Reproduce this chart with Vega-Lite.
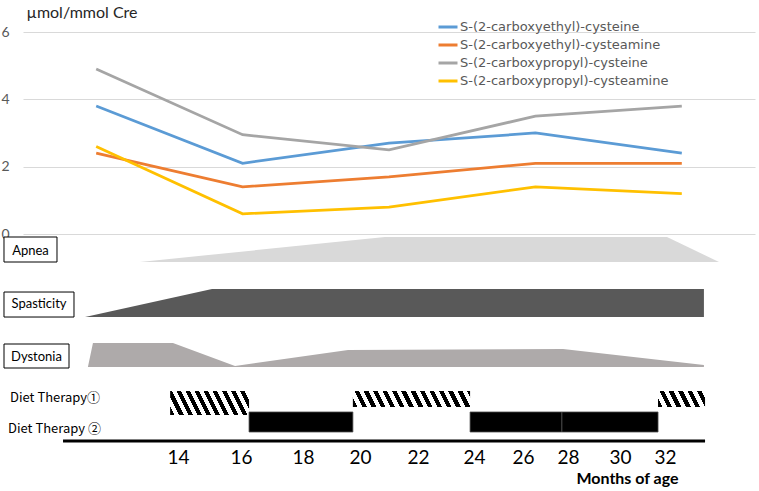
{
  "$schema": "https://vega.github.io/schema/vega-lite/v6.json",
  "width": 732,
  "height": 410,
  "autosize": {"type": "none"},
  "padding": {"left": 23, "top": 32, "right": 4, "bottom": 49},
  "config": {"view": {"stroke": null}, "font": "Lato"},
  "datasets": {
    "lines": [
      {"sample": 1, "compound": "S-(2-carboxyethyl)-cysteine", "value": 3.8},
      {"sample": 2, "compound": "S-(2-carboxyethyl)-cysteine", "value": 2.1},
      {"sample": 3, "compound": "S-(2-carboxyethyl)-cysteine", "value": 2.7},
      {"sample": 4, "compound": "S-(2-carboxyethyl)-cysteine", "value": 3.0},
      {"sample": 5, "compound": "S-(2-carboxyethyl)-cysteine", "value": 2.4},
      {"sample": 1, "compound": "S-(2-carboxyethyl)-cysteamine", "value": 2.4},
      {"sample": 2, "compound": "S-(2-carboxyethyl)-cysteamine", "value": 1.4},
      {"sample": 3, "compound": "S-(2-carboxyethyl)-cysteamine", "value": 1.7},
      {"sample": 4, "compound": "S-(2-carboxyethyl)-cysteamine", "value": 2.1},
      {"sample": 5, "compound": "S-(2-carboxyethyl)-cysteamine", "value": 2.1},
      {"sample": 1, "compound": "S-(2-carboxypropyl)-cysteine", "value": 4.9},
      {"sample": 2, "compound": "S-(2-carboxypropyl)-cysteine", "value": 2.95},
      {"sample": 3, "compound": "S-(2-carboxypropyl)-cysteine", "value": 2.5},
      {"sample": 4, "compound": "S-(2-carboxypropyl)-cysteine", "value": 3.5},
      {"sample": 5, "compound": "S-(2-carboxypropyl)-cysteine", "value": 3.8},
      {"sample": 1, "compound": "S-(2-carboxypropyl)-cysteamine", "value": 2.6},
      {"sample": 2, "compound": "S-(2-carboxypropyl)-cysteamine", "value": 0.6},
      {"sample": 3, "compound": "S-(2-carboxypropyl)-cysteamine", "value": 0.8},
      {"sample": 4, "compound": "S-(2-carboxypropyl)-cysteamine", "value": 1.4},
      {"sample": 5, "compound": "S-(2-carboxypropyl)-cysteamine", "value": 1.2}
    ],
    "symptoms": [
      {"symptom": "Apnea", "month": 12.79, "severity": 0},
      {"symptom": "Apnea", "month": 20.86, "severity": 1},
      {"symptom": "Apnea", "month": 32.09, "severity": 1},
      {"symptom": "Apnea", "month": 34.4, "severity": 0},
      {"symptom": "Spasticity", "month": 11.05, "severity": 0},
      {"symptom": "Spasticity", "month": 15.08, "severity": 1},
      {"symptom": "Spasticity", "month": 33.73, "severity": 1},
      {"symptom": "Dystonia", "month": 11.14, "severity": 0},
      {"symptom": "Dystonia", "month": 11.3, "severity": 1},
      {"symptom": "Dystonia", "month": 13.84, "severity": 1},
      {"symptom": "Dystonia", "month": 15.81, "severity": 0.04},
      {"symptom": "Dystonia", "month": 19.58, "severity": 0.71},
      {"symptom": "Dystonia", "month": 27.78, "severity": 0.75},
      {"symptom": "Dystonia", "month": 33.73, "severity": 0.08}
    ],
    "diet": [
      {"phase": 1, "therapy": 1, "start": 13.75, "end": 16.26},
      {"phase": 2, "therapy": 2, "start": 16.26, "end": 19.75},
      {"phase": 3, "therapy": 1, "start": 19.75, "end": 23.86},
      {"phase": 4, "therapy": 2, "start": 23.86, "end": 27.73},
      {"phase": 5, "therapy": 2, "start": 27.73, "end": 31.69},
      {"phase": 6, "therapy": 1, "start": 31.69, "end": 33.78}
    ]
  },
  "layer": [
    {
      "data": {"name": "lines"},
      "mark": {"type": "line", "strokeWidth": 2.75},
      "encoding": {
        "x": {"field": "sample", "type": "ordinal", "scale": {"type": "point", "padding": 0.5}, "axis": null},
        "y": {"field": "value", "type": "quantitative",
          "scale": {"domain": [-6.178, 6], "nice": false, "zero": false},
          "axis": {"values": [0, 2, 4, 6], "grid": true, "gridColor": "#D9D9D9", "gridWidth": 1, "domain": false, "ticks": false,
            "labelPadding": 14, "labelFontSize": 14, "labelColor": "#595959", "labelFont": "Lato",
            "title": "µmol/mmol Cre", "titleAngle": 0, "titleAlign": "left", "titleBaseline": "middle", "titleX": 3, "titleY": -20,
            "titleFontSize": 16, "titleFontWeight": "normal", "titleColor": "#262626", "titleFont": "Lato"}},
        "color": {"field": "compound", "type": "nominal",
          "scale": {"domain": ["S-(2-carboxyethyl)-cysteine", "S-(2-carboxyethyl)-cysteamine", "S-(2-carboxypropyl)-cysteine", "S-(2-carboxypropyl)-cysteamine"],
            "range": ["#5B9BD5", "#ED7D31", "#A5A5A5", "#FFC000"]},
          "legend": {"orient": "none", "legendX": 414, "legendY": -16, "title": null, "symbolType": "stroke", "symbolSize": 361,
            "symbolStrokeWidth": 3, "labelFontSize": 13, "labelColor": "#595959", "labelFont": "DejaVu Sans", "labelLimit": 0,
            "rowPadding": 0, "labelOffset": 1}}
      }
    },
    {
      "layer": [
        {
          "data": {"name": "symptoms"},
          "transform": [{"filter": "datum.symptom === 'Apnea'"}],
          "mark": {"type": "area", "color": "#D9D9D9"},
          "encoding": {
            "x": {"field": "month", "type": "quantitative", "scale": {"domain": [14,16,18,20,22,24,26,28,30,32], "range": [155,218,280,337,395,451,500,545,597,642], "nice": false, "zero": false}, "axis": null},
            "y": {"field": "severity", "type": "quantitative", "scale": {"domain": [-7.2, 9.2], "nice": false, "zero": false}, "axis": null},
            "y2": {"datum": 0}
          }
        },
        {
          "data": {"values": [{}]},
          "mark": {"type": "rect", "width": 53, "height": 25, "fill": "white", "stroke": "black", "strokeWidth": 1},
          "encoding": {
            "x": {"datum": 9.317, "type": "quantitative", "scale": {"domain": [14,16,18,20,22,24,26,28,30,32], "range": [155,218,280,337,395,451,500,545,597,642], "nice": false, "zero": false}, "axis": null},
            "y": {"datum": 0.5, "type": "quantitative", "scale": {"domain": [-7.2, 9.2], "nice": false, "zero": false}, "axis": null}
          }
        },
        {
          "data": {"values": [{}]},
          "mark": {"type": "text", "text": "Apnea", "fontSize": 13, "font": "Lato", "color": "black", "align": "center", "baseline": "middle"},
          "encoding": {
            "x": {"datum": 9.317, "type": "quantitative", "scale": {"domain": [14,16,18,20,22,24,26,28,30,32], "range": [155,218,280,337,395,451,500,545,597,642], "nice": false, "zero": false}, "axis": null},
            "y": {"datum": 0.45, "type": "quantitative", "scale": {"domain": [-7.2, 9.2], "nice": false, "zero": false}, "axis": null}
          }
        }
      ]
    },
    {
      "layer": [
        {
          "data": {"name": "symptoms"},
          "transform": [{"filter": "datum.symptom === 'Spasticity'"}],
          "mark": {"type": "area", "color": "#595959"},
          "encoding": {
            "x": {"field": "month", "type": "quantitative", "scale": {"domain": [14,16,18,20,22,24,26,28,30,32], "range": [155,218,280,337,395,451,500,545,597,642], "nice": false, "zero": false}, "axis": null},
            "y": {"field": "severity", "type": "quantitative", "scale": {"domain": [-4.464, 10.179], "nice": false, "zero": false}, "axis": null},
            "y2": {"datum": 0}
          }
        },
        {
          "data": {"values": [{}]},
          "mark": {"type": "rect", "width": 70, "height": 25, "fill": "white", "stroke": "black", "strokeWidth": 1},
          "encoding": {
            "x": {"datum": 9.587, "type": "quantitative", "scale": {"domain": [14,16,18,20,22,24,26,28,30,32], "range": [155,218,280,337,395,451,500,545,597,642], "nice": false, "zero": false}, "axis": null},
            "y": {"datum": 0.446, "type": "quantitative", "scale": {"domain": [-4.464, 10.179], "nice": false, "zero": false}, "axis": null}
          }
        },
        {
          "data": {"values": [{}]},
          "mark": {"type": "text", "text": "Spasticity", "fontSize": 13, "font": "Lato", "color": "black", "align": "center", "baseline": "middle"},
          "encoding": {
            "x": {"datum": 9.587, "type": "quantitative", "scale": {"domain": [14,16,18,20,22,24,26,28,30,32], "range": [155,218,280,337,395,451,500,545,597,642], "nice": false, "zero": false}, "axis": null},
            "y": {"datum": 0.46, "type": "quantitative", "scale": {"domain": [-4.464, 10.179], "nice": false, "zero": false}, "axis": null}
          }
        }
      ]
    },
    {
      "layer": [
        {
          "data": {"name": "symptoms"},
          "transform": [{"filter": "datum.symptom === 'Dystonia'"}],
          "mark": {"type": "area", "color": "#AEAAAA"},
          "encoding": {
            "x": {"field": "month", "type": "quantitative", "scale": {"domain": [14,16,18,20,22,24,26,28,30,32], "range": [155,218,280,337,395,451,500,545,597,642], "nice": false, "zero": false}, "axis": null},
            "y": {"field": "severity", "type": "quantitative", "scale": {"domain": [-3.125, 13.958], "nice": false, "zero": false}, "axis": null},
            "y2": {"datum": 0}
          }
        },
        {
          "data": {"values": [{}]},
          "mark": {"type": "rect", "width": 65, "height": 24, "fill": "white", "stroke": "black", "strokeWidth": 1},
          "encoding": {
            "x": {"datum": 9.508, "type": "quantitative", "scale": {"domain": [14,16,18,20,22,24,26,28,30,32], "range": [155,218,280,337,395,451,500,545,597,642], "nice": false, "zero": false}, "axis": null},
            "y": {"datum": 0.458, "type": "quantitative", "scale": {"domain": [-3.125, 13.958], "nice": false, "zero": false}, "axis": null}
          }
        },
        {
          "data": {"values": [{}]},
          "mark": {"type": "text", "text": "Dystonia", "fontSize": 13, "font": "Lato", "color": "black", "align": "center", "baseline": "middle"},
          "encoding": {
            "x": {"datum": 9.508, "type": "quantitative", "scale": {"domain": [14,16,18,20,22,24,26,28,30,32], "range": [155,218,280,337,395,451,500,545,597,642], "nice": false, "zero": false}, "axis": null},
            "y": {"datum": 0.42, "type": "quantitative", "scale": {"domain": [-3.125, 13.958], "nice": false, "zero": false}, "axis": null}
          }
        }
      ]
    },
    {
      "data": {"name": "diet"},
      "transform": [{"filter": "datum.phase === 1"}],
      "mark": {"type": "rect", "height": 24, "yOffset": 4,
        "fill": {"gradient": "linear", "x1": 0, "y1": 1, "x2": 1.126, "y2": 0.829, "stops": [
          {"offset": 0, "color": "#000"}, {"offset": 0.05, "color": "#000"}, {"offset": 0.05, "color": "#fff"}, {"offset": 0.1, "color": "#fff"},
          {"offset": 0.1, "color": "#000"}, {"offset": 0.15, "color": "#000"}, {"offset": 0.15, "color": "#fff"}, {"offset": 0.2, "color": "#fff"},
          {"offset": 0.2, "color": "#000"}, {"offset": 0.25, "color": "#000"}, {"offset": 0.25, "color": "#fff"}, {"offset": 0.3, "color": "#fff"},
          {"offset": 0.3, "color": "#000"}, {"offset": 0.35, "color": "#000"}, {"offset": 0.35, "color": "#fff"}, {"offset": 0.4, "color": "#fff"},
          {"offset": 0.4, "color": "#000"}, {"offset": 0.45, "color": "#000"}, {"offset": 0.45, "color": "#fff"}, {"offset": 0.5, "color": "#fff"},
          {"offset": 0.5, "color": "#000"}, {"offset": 0.55, "color": "#000"}, {"offset": 0.55, "color": "#fff"}, {"offset": 0.6, "color": "#fff"},
          {"offset": 0.6, "color": "#000"}, {"offset": 0.65, "color": "#000"}, {"offset": 0.65, "color": "#fff"}, {"offset": 0.7, "color": "#fff"},
          {"offset": 0.7, "color": "#000"}, {"offset": 0.75, "color": "#000"}, {"offset": 0.75, "color": "#fff"}, {"offset": 0.8, "color": "#fff"},
          {"offset": 0.8, "color": "#000"}, {"offset": 0.85, "color": "#000"}, {"offset": 0.85, "color": "#fff"}, {"offset": 0.9, "color": "#fff"},
          {"offset": 0.9, "color": "#000"}, {"offset": 0.95, "color": "#000"}, {"offset": 0.95, "color": "#fff"}, {"offset": 1, "color": "#fff"}
        ]}},
      "encoding": {
        "x": {"field": "start", "type": "quantitative", "scale": {"domain": [14,16,18,20,22,24,26,28,30,32], "range": [155,218,280,337,395,451,500,545,597,642], "nice": false, "zero": false}, "axis": null},
        "x2": {"field": "end"},
        "y": {"field": "therapy", "type": "quantitative", "scale": {"domain": [-14.957, 2.87], "reverse": true, "nice": false, "zero": false}, "axis": null}
      }
    },
    {
      "data": {"name": "diet"},
      "transform": [{"filter": "datum.phase === 3"}],
      "mark": {"type": "rect", "height": 16,
        "fill": {"gradient": "linear", "x1": 0, "y1": 1, "x2": 1.0634, "y2": 0.9273, "stops": [
          {"offset": 0, "color": "#000"}, {"offset": 0.0375, "color": "#000"}, {"offset": 0.0375, "color": "#fff"}, {"offset": 0.075, "color": "#fff"},
          {"offset": 0.075, "color": "#000"}, {"offset": 0.1125, "color": "#000"}, {"offset": 0.1125, "color": "#fff"}, {"offset": 0.15, "color": "#fff"},
          {"offset": 0.15, "color": "#000"}, {"offset": 0.1875, "color": "#000"}, {"offset": 0.1875, "color": "#fff"}, {"offset": 0.225, "color": "#fff"},
          {"offset": 0.225, "color": "#000"}, {"offset": 0.2625, "color": "#000"}, {"offset": 0.2625, "color": "#fff"}, {"offset": 0.3, "color": "#fff"},
          {"offset": 0.3, "color": "#000"}, {"offset": 0.3375, "color": "#000"}, {"offset": 0.3375, "color": "#fff"}, {"offset": 0.375, "color": "#fff"},
          {"offset": 0.375, "color": "#000"}, {"offset": 0.4125, "color": "#000"}, {"offset": 0.4125, "color": "#fff"}, {"offset": 0.45, "color": "#fff"},
          {"offset": 0.45, "color": "#000"}, {"offset": 0.4875, "color": "#000"}, {"offset": 0.4875, "color": "#fff"}, {"offset": 0.525, "color": "#fff"},
          {"offset": 0.525, "color": "#000"}, {"offset": 0.5625, "color": "#000"}, {"offset": 0.5625, "color": "#fff"}, {"offset": 0.6, "color": "#fff"},
          {"offset": 0.6, "color": "#000"}, {"offset": 0.6375, "color": "#000"}, {"offset": 0.6375, "color": "#fff"}, {"offset": 0.675, "color": "#fff"},
          {"offset": 0.675, "color": "#000"}, {"offset": 0.7125, "color": "#000"}, {"offset": 0.7125, "color": "#fff"}, {"offset": 0.75, "color": "#fff"},
          {"offset": 0.75, "color": "#000"}, {"offset": 0.7875, "color": "#000"}, {"offset": 0.7875, "color": "#fff"}, {"offset": 0.825, "color": "#fff"},
          {"offset": 0.825, "color": "#000"}, {"offset": 0.8625, "color": "#000"}, {"offset": 0.8625, "color": "#fff"}, {"offset": 0.9, "color": "#fff"},
          {"offset": 0.9, "color": "#000"}, {"offset": 0.9375, "color": "#000"}, {"offset": 0.9375, "color": "#fff"}, {"offset": 0.975, "color": "#fff"},
          {"offset": 0.975, "color": "#000"}, {"offset": 1, "color": "#000"}
        ]}},
      "encoding": {
        "x": {"field": "start", "type": "quantitative", "scale": {"domain": [14,16,18,20,22,24,26,28,30,32], "range": [155,218,280,337,395,451,500,545,597,642], "nice": false, "zero": false}, "axis": null},
        "x2": {"field": "end"},
        "y": {"field": "therapy", "type": "quantitative", "scale": {"domain": [-14.957, 2.87], "reverse": true, "nice": false, "zero": false}, "axis": null}
      }
    },
    {
      "data": {"name": "diet"},
      "transform": [{"filter": "datum.phase === 6"}],
      "mark": {"type": "rect", "height": 16,
        "fill": {"gradient": "linear", "x1": 0, "y1": 1, "x2": 1.1373, "y2": 0.8064, "stops": [
          {"offset": 0, "color": "#000"}, {"offset": 0.085, "color": "#000"}, {"offset": 0.085, "color": "#fff"}, {"offset": 0.17, "color": "#fff"},
          {"offset": 0.17, "color": "#000"}, {"offset": 0.255, "color": "#000"}, {"offset": 0.255, "color": "#fff"}, {"offset": 0.34, "color": "#fff"},
          {"offset": 0.34, "color": "#000"}, {"offset": 0.425, "color": "#000"}, {"offset": 0.425, "color": "#fff"}, {"offset": 0.51, "color": "#fff"},
          {"offset": 0.51, "color": "#000"}, {"offset": 0.595, "color": "#000"}, {"offset": 0.595, "color": "#fff"}, {"offset": 0.68, "color": "#fff"},
          {"offset": 0.68, "color": "#000"}, {"offset": 0.765, "color": "#000"}, {"offset": 0.765, "color": "#fff"}, {"offset": 0.85, "color": "#fff"},
          {"offset": 0.85, "color": "#000"}, {"offset": 0.935, "color": "#000"}, {"offset": 0.935, "color": "#fff"}, {"offset": 1, "color": "#fff"}
        ]}},
      "encoding": {
        "x": {"field": "start", "type": "quantitative", "scale": {"domain": [14,16,18,20,22,24,26,28,30,32], "range": [155,218,280,337,395,451,500,545,597,642], "nice": false, "zero": false}, "axis": null},
        "x2": {"field": "end"},
        "y": {"field": "therapy", "type": "quantitative", "scale": {"domain": [-14.957, 2.87], "reverse": true, "nice": false, "zero": false}, "axis": null}
      }
    },
    {
      "data": {"name": "diet"},
      "transform": [{"filter": "datum.therapy === 2"}],
      "mark": {"type": "rect", "height": 20, "fill": "#000", "stroke": "#4d4d4d", "strokeWidth": 0.8},
      "encoding": {
        "x": {"field": "start", "type": "quantitative", "scale": {"domain": [14,16,18,20,22,24,26,28,30,32], "range": [155,218,280,337,395,451,500,545,597,642], "nice": false, "zero": false},
          "axis": {"orient": "bottom", "values": [14,16,18,20,22,24,26,28,30,32], "labelFontSize": 19, "labelColor": "#000", "labelFont": "Lato",
            "domain": false, "ticks": false, "grid": false, "labelPadding": 6, "labelFlush": false, "labelOverlap": false,
            "title": "Months of age", "titleFontSize": 16, "titleFontWeight": "bold", "titleColor": "#000", "titleFont": "Lato",
            "titleX": 604, "titleY": 36, "titleAlign": "center", "titleBaseline": "middle"}},
        "x2": {"field": "end"},
        "y": {"field": "therapy", "type": "quantitative", "scale": {"domain": [-14.957, 2.87], "reverse": true, "nice": false, "zero": false}, "axis": null}
      }
    },
    {
      "data": {"values": [{}]},
      "mark": {"type": "text", "text": "Diet Therapy①", "fontSize": 13, "font": "Noto Sans CJK JP", "color": "black", "align": "left", "baseline": "middle"},
      "encoding": {
        "x": {"datum": 8.667, "type": "quantitative", "scale": {"domain": [14,16,18,20,22,24,26,28,30,32], "range": [155,218,280,337,395,451,500,545,597,642], "nice": false, "zero": false}, "axis": null},
        "y": {"datum": 0.957, "type": "quantitative", "scale": {"domain": [-14.957, 2.87], "reverse": true, "nice": false, "zero": false}, "axis": null}
      }
    },
    {
      "data": {"values": [{}]},
      "mark": {"type": "text", "text": "Diet Therapy ②", "fontSize": 13, "font": "Noto Sans CJK JP", "color": "black", "align": "left", "baseline": "middle"},
      "encoding": {
        "x": {"datum": 8.603, "type": "quantitative", "scale": {"domain": [14,16,18,20,22,24,26,28,30,32], "range": [155,218,280,337,395,451,500,545,597,642], "nice": false, "zero": false}, "axis": null},
        "y": {"datum": 2.304, "type": "quantitative", "scale": {"domain": [-14.957, 2.87], "reverse": true, "nice": false, "zero": false}, "axis": null}
      }
    },
    {
      "data": {"values": [{}]},
      "mark": {"type": "rule", "color": "#000", "strokeWidth": 3},
      "encoding": {
        "x": {"datum": 10.35, "type": "quantitative", "scale": {"domain": [14,16,18,20,22,24,26,28,30,32], "range": [155,218,280,337,395,451,500,545,597,642], "nice": false, "zero": false}, "axis": null},
        "x2": {"datum": 33.78},
        "y": {"datum": 2.826, "type": "quantitative", "scale": {"domain": [-14.957, 2.87], "reverse": true, "nice": false, "zero": false}, "axis": null}
      }
    }
  ],
  "resolve": {"scale": {"x": "independent", "y": "independent"}}
}
